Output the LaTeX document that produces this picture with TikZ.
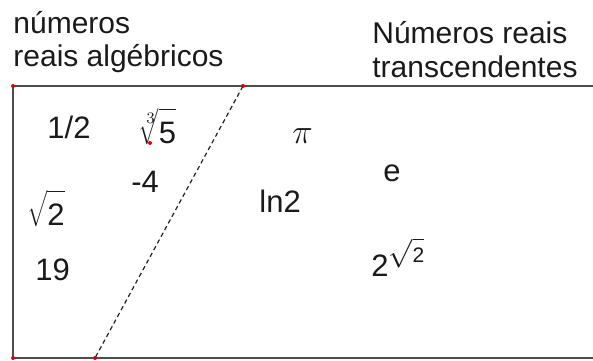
\documentclass[tikz,border=0pt]{standalone}
\usepackage{fontspec}
\setmainfont{Liberation Sans}
\usepackage{xcolor}
\definecolor{textcolor}{HTML}{1a1a1a}
\definecolor{framecolor}{HTML}{4d4d4d}
\definecolor{dashcolor}{HTML}{222222}
\definecolor{pointcolor}{HTML}{e00000}
\usepackage{tikz}
\usetikzlibrary{positioning,calc}
\tikzset{
    setlabel/.style={
        text=textcolor,
        font=\fontsize{15}{18}\selectfont,
        inner sep=0pt,
        anchor=base west,
    },
    number/.style={
        text=textcolor,
        font=\fontsize{15.5}{18}\selectfont,
        inner sep=0pt,
        anchor=base west,
    },
    frame/.style={
        draw=framecolor,
        line width=1pt,
    },
    divider/.style={
        draw=dashcolor,
        line width=0.6pt,
        dash pattern=on 2.2pt off 1.6pt,
    },
    gpoint/.style={
        circle,
        fill=pointcolor,
        inner sep=0pt,
        minimum size=2pt,
    },
}
\newcommand{\tallroot}[2][]{\sqrt[#1]{\rule{0pt}{15.5pt}\mbox{#2}}}
\begin{document}
\begin{tikzpicture}[x=0.5pt,y=-0.5pt]
    \useasboundingbox (0,0) rectangle (593,360);
    \coordinate (tl) at (13,86);
    \coordinate (bl) at (13,358);
    \coordinate (tr) at (593,86);
    \coordinate (br) at (593,358);
    \coordinate (dtop) at (243,86);
    \coordinate (dbot) at (95,358);
    \draw[frame] (tr) -- (tl) -- (bl) -- (br);
    \draw[divider] (dtop) -- (dbot);
    \node[setlabel] (algA) at (13,33) {números};
    \node[setlabel] (algB) at (13,66) {reais algébricos};
    \node[setlabel] (transA) at (372,43) {Números reais};
    \node[setlabel] (transB) at (372,77) {transcendentes};
    \node[number] (half) at (47,138) {1/2};
    \node[number] (cbrt) at (138,143) {$\tallroot[3]{5}$};
    \node[number] (minus) at (131,192) {-4};
    \node[number] (sqrtwo) at (35,225) {$\tallroot{2}$};
    \node[number] (nineteen) at (35,280) {19};
    \node[number, font=\fontsize{17}{19}\selectfont] (pi) at (292,143) {$\pi$};
    \node[number] (euler) at (383,181) {e};
    \node[number] (lntwo) at (259,212) {ln2};
    \node[number] (power) at (371,276) {2\raisebox{7pt}{$\sqrt{\mbox{\fontsize{10.5}{12}\selectfont 2}}$}};
    \foreach \p in {tl,dtop,bl,dbot}
        \node[gpoint] at (\p) {};
    \node[gpoint] (cbrtpt) at (150,143) {};
\end{tikzpicture}
\end{document}
